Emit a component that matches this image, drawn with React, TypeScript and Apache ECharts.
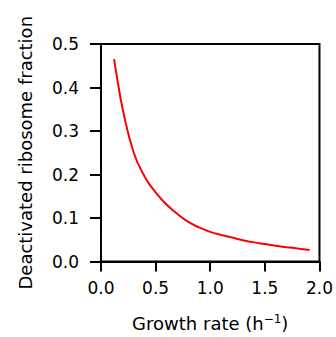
import React, { useEffect, useRef } from "react";
import * as echarts from "echarts";

const growthRate = [0.12, 0.15, 0.2, 0.3, 0.4, 0.5, 0.6, 0.7, 0.8, 0.9, 1.0, 1.1, 1.2, 1.3, 1.4, 1.5, 1.6, 1.7, 1.8, 1.91];
const deactivatedFraction = [0.465, 0.418, 0.349, 0.25, 0.195, 0.159, 0.131, 0.109, 0.091, 0.078, 0.068, 0.061, 0.055, 0.049, 0.044, 0.04, 0.036, 0.033, 0.03, 0.0265];

const xTicks = { min: 0, max: 2, interval: 0.5 };
const yTicks = { min: 0, max: 0.5, interval: 0.1 };

const FONT = "'DejaVu Sans', 'Liberation Sans', Arial, sans-serif";
const FS = 17;
const NAME_FS = 18;

export default function App() {
  const ref = useRef<HTMLDivElement>(null);
  useEffect(() => {
    if (!ref.current) return;
    const chart = echarts.init(ref.current, null, { renderer: "svg" });
    const data = growthRate.map((x, i) => [x, deactivatedFraction[i]]);
    chart.setOption({
      animation: false,
      grid: {
        left: 101,
        right: 16,
        top: 44,
        bottom: 73,
        show: true,
        borderColor: "#000",
        borderWidth: 2,
        backgroundColor: "transparent",
      },
      xAxis: {
        type: "value",
        min: xTicks.min,
        max: xTicks.max,
        interval: xTicks.interval,
        name: "Growth rate (h{sup|−1})",
        nameLocation: "middle",
        nameGap: 51,
        nameTextStyle: {
          fontFamily: FONT,
          fontSize: NAME_FS,
          color: "#000",
          rich: {
            sup: { fontSize: 12, verticalAlign: "top", padding: [0, 0, 9, 0], fontFamily: FONT, color: "#000" },
          },
        },
        axisLine: { show: true, lineStyle: { color: "#000", width: 2 } },
        axisTick: { show: true, length: 10, lineStyle: { color: "#000", width: 2 } },
        axisLabel: {
          fontFamily: FONT,
          fontSize: FS,
          color: "#000",
          margin: 18,
          formatter: (v: number) => v.toFixed(1),
        },
        splitLine: { show: false },
      },
      yAxis: {
        type: "value",
        min: yTicks.min,
        max: yTicks.max,
        interval: yTicks.interval,
        name: "Deactivated ribosome fraction",
        nameLocation: "middle",
        nameGap: 67,
        nameTextStyle: { fontFamily: FONT, fontSize: NAME_FS, color: "#000" },
        axisLine: { show: true, lineStyle: { color: "#000", width: 2 } },
        axisTick: { show: true, length: 11, lineStyle: { color: "#000", width: 2 } },
        axisLabel: {
          fontFamily: FONT,
          fontSize: FS,
          color: "#000",
          margin: 22,
          formatter: (v: number) => v.toFixed(1),
        },
        splitLine: { show: false },
      },
      series: [
        {
          type: "line",
          data,
          smooth: true,
          showSymbol: false,
          lineStyle: { color: "#ff0000", width: 2 },
        },
      ],
    });
    return () => chart.dispose();
  }, []);
  return <div ref={ref} style={{ width: 336, height: 337, position: "absolute", left: 0, top: 0 }} />;
}
